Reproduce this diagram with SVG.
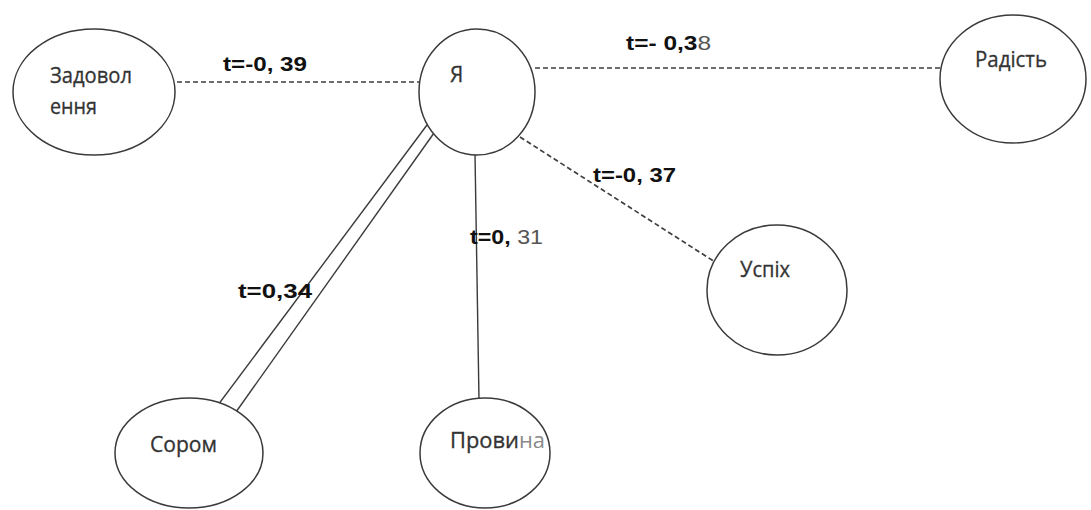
<svg xmlns="http://www.w3.org/2000/svg" width="1091" height="510" viewBox="0 0 1091 510">
  <style>
    .node { fill: #ffffff; stroke: #3a3a3a; stroke-width: 1.5; }
    .dash { stroke: #3f3f3f; stroke-width: 1.7; stroke-dasharray: 5 3; fill: none; }
    .solid { stroke: #3a3a3a; stroke-width: 1.4; fill: none; }
    .lbl { font-family: "Open Sans", "Liberation Sans", sans-serif; font-size: 21px; fill: #333333; stroke: #333333; stroke-width: 0.3; }
    .t { font-family: "Liberation Sans", Arial, sans-serif; font-size: 20px; font-weight: bold; fill: #111111; }
    .g { font-weight: normal; fill: #555555; }
  </style>
  <rect width="1091" height="510" fill="#ffffff"/>
  <g id="connectors">
    <line class="dash" x1="177" y1="82" x2="419" y2="82"/>
    <line class="dash" x1="535" y1="68" x2="941" y2="68"/>
    <line class="dash" x1="520" y1="137" x2="715" y2="262"/>
    <line class="solid" x1="475" y1="154" x2="479" y2="400"/>
    <line class="solid" x1="427" y1="125" x2="218" y2="405"/>
    <line class="solid" x1="434" y1="133" x2="236" y2="412"/>
  </g>
  <g id="edge-labels">
    <text class="t" x="223" y="71" textLength="84" lengthAdjust="spacingAndGlyphs">t=-0, 39</text>
    <text class="t" x="626" y="50" textLength="85" lengthAdjust="spacingAndGlyphs">t=- 0,3<tspan class="g">8</tspan></text>
    <text class="t" x="593" y="182" textLength="83" lengthAdjust="spacingAndGlyphs">t=-0, 37</text>
    <text class="t" x="470" y="244" textLength="73" lengthAdjust="spacingAndGlyphs">t=0,<tspan class="g"> 31</tspan></text>
    <text class="t" x="238" y="298" textLength="74" lengthAdjust="spacingAndGlyphs">t=0,34</text>
  </g>
  <g id="node-zadovolennia">
    <ellipse class="node" cx="94" cy="92" rx="81" ry="63"/>
    <text class="lbl" x="50" y="83" textLength="82" lengthAdjust="spacingAndGlyphs">Задовол</text>
    <text class="lbl" x="50" y="114" textLength="47" lengthAdjust="spacingAndGlyphs">ення</text>
  </g>
  <g id="node-ya">
    <ellipse class="node" cx="477" cy="92" rx="58" ry="63"/>
    <text class="lbl" x="450" y="82">Я</text>
  </g>
  <g id="node-radist">
    <ellipse class="node" cx="1013" cy="79" rx="73" ry="64"/>
    <text class="lbl" x="975" y="67" textLength="72" lengthAdjust="spacingAndGlyphs">Радість</text>
  </g>
  <g id="node-uspikh">
    <ellipse class="node" cx="777" cy="290" rx="70" ry="65"/>
    <text class="lbl" x="740" y="277" textLength="50" lengthAdjust="spacingAndGlyphs">Успіх</text>
  </g>
  <g id="node-sorom">
    <ellipse class="node" cx="189" cy="453" rx="74" ry="55"/>
    <text class="lbl" x="150" y="452" textLength="67" lengthAdjust="spacingAndGlyphs">Сором</text>
  </g>
  <g id="node-provyna">
    <ellipse class="node" cx="485" cy="453" rx="65" ry="55"/>
    <text class="lbl" x="450" y="448" textLength="95" lengthAdjust="spacingAndGlyphs">Прови<tspan fill="#8a8a8a" stroke="none">на</tspan></text>
  </g>
</svg>
